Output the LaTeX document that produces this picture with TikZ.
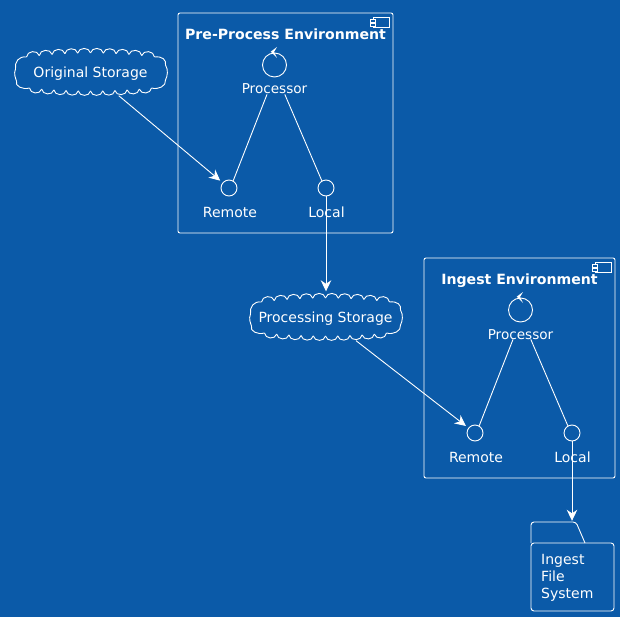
\documentclass[tikz,border=0pt]{standalone}
\usepackage{fontspec}
\setmainfont{DejaVu Sans}
\usepackage{tikz}
\usetikzlibrary{
    calc,
    arrows.meta
}
\definecolor{bluebg}{HTML}{0B5AA8}
\tikzset{
  umlline/.style={draw=white,line width=0.9pt},
  umlarrow/.style={umlline,-{Stealth[length=11pt,width=10.5pt,inset=3.5pt]}},
  umltext/.style={text=white,inner sep=0pt,anchor=base,font=\fontsize{14}{16}\selectfont},
  umltitle/.style={umltext,font=\fontsize{14.1}{16}\selectfont\bfseries},
  iface/.style={circle,umlline,minimum size=16pt,inner sep=0pt}
}
\newcommand{\EnvBox}[6]{%
  \begin{scope}[shift={(#2,#3)}]
  \draw[umlline,rounded corners=2pt] (0,0) rectangle (#4,#5);
  \draw[umlline,fill=bluebg] (#4-20,4) rectangle (#4-4,14);
  \draw[umlline,fill=bluebg] (#4-22.5,6.5) rectangle (#4-18,9);
  \draw[umlline,fill=bluebg] (#4-22.5,10.5) rectangle (#4-18,13);
  \node[umltitle] (#1Title) at (#4/2,26.3) {#6};
  \node[circle,umlline,minimum size=24pt,inner sep=0pt] (#1Control) at (96.5,52) {};
  \fill[white] (92.7,38.7) -- (99,34) -- (96,39) -- (99,45) -- cycle;
  \node[umltext,font=\fontsize{13.6}{16}\selectfont] (#1Processor) at (96.5,81) {Processor};
  \node[iface] (#1Remote) at (51,175) {};
  \node[iface] (#1Local) at (148,175) {};
  \node[umltext] (#1RemoteText) at (52,204.5) {Remote};
  \node[umltext] (#1LocalText) at (148.5,204.5) {Local};
  \draw[umlline] (#1Processor.215) -- (#1Remote.60);
  \draw[umlline] (#1Processor.-27) -- (#1Local.120);
  \end{scope}
}
\newcommand{\StorageCloud}[4]{%
  \begin{scope}[shift={(#2,#3)}]
  \node[minimum width=151pt,minimum height=47pt,inner sep=0pt] (#1) at (0,0) {};
  \node[umltext] (#1Text) at (0,5.5) {#4};
  \foreach \i in {0,...,9} {
    \pgfmathsetmacro{\xa}{-64+\i*12.8}
    \pgfmathsetmacro{\xb}{\xa+12.8}
    \pgfmathsetmacro{\ya}{-15-4*(1-(\xa/64)^2)}
    \pgfmathsetmacro{\yb}{-15-4*(1-(\xb/64)^2)}
    \draw[umlline] (\xa,\ya) to[bend left=80,looseness=1.25] (\xb,\yb);
    \pgfmathsetmacro{\xc}{-61+\i*12.2}
    \pgfmathsetmacro{\xd}{\xc+12.2}
    \pgfmathsetmacro{\yc}{16+3*(1-(\xc/61)^2)}
    \pgfmathsetmacro{\yd}{16+3*(1-(\xd/61)^2)}
    \draw[umlline] (\xc,\yc) to[bend right=80,looseness=1.25] (\xd,\yd);
  }
  \draw[umlline] (-64,-15) .. controls (-72,-16) and (-76,-10) .. (-75,-3)
    .. controls (-77,2) and (-75,6) .. (-74,9)
    .. controls (-76,14) and (-68,18) .. (-61,16);
  \draw[umlline] (64,-15) .. controls (72,-16) and (76,-12) .. (75,-7)
    .. controls (78,-2) and (77,4) .. (75,8)
    .. controls (76,14) and (68,18) .. (61,16);
  \end{scope}
}
\begin{document}
\begin{tikzpicture}[x=1pt,y=-1pt]
\useasboundingbox[fill=bluebg] (0,0) rectangle (620,617);
\EnvBox{Pre}{178}{13}{215}{220}{Pre-Process Environment}
\EnvBox{Ingest}{424}{258}{191}{220}{Ingest Environment}
\StorageCloud{Original}{90.5}{72}{Original Storage}
\StorageCloud{Processing}{325.5}{317}{Processing Storage}
% ingest folder
\draw[umlline,rounded corners=3pt] (531,543) -- (531,522) -- (576,522) -- (585,543);
\draw[umlline,rounded corners=3pt] (531,543) rectangle (614,611);
\node[minimum width=83pt,minimum height=89pt,inner sep=0pt] (Folder) at (572.5,566.5) {};
\node[umltext,anchor=base west] (FolderText) at (541,564) {Ingest};
\node[umltext,anchor=base west] (FolderTextB) at (541,581) {File};
\node[umltext,anchor=base west] (FolderTextC) at (541,598) {System};
\draw[umlarrow,shorten >=3pt] (Original) -- (PreRemote);
\draw[umlarrow,shorten >=3pt] (Processing) -- (IngestRemote);
\draw[umlarrow,shorten >=2pt] (PreLocal.south) -- (PreLocal.south |- Processing.north);
\draw[umlarrow,shorten >=1pt] (IngestLocal.south) -- (IngestLocal.south |- Folder.north);
\end{tikzpicture}
\end{document}
